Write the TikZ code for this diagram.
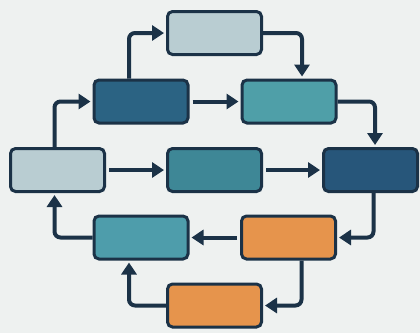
\documentclass[tikz,border=0pt]{standalone}
\usetikzlibrary{arrows.meta}
\definecolor{bgc}{HTML}{EEF1F0}
\definecolor{edgec}{HTML}{1B3247}
\definecolor{lightc}{HTML}{B9CDD2}
\definecolor{darkA}{HTML}{2B6383}
\definecolor{darkR}{HTML}{27567A}
\definecolor{tealB}{HTML}{4F9FA8}
\definecolor{tealM}{HTML}{3E8796}
\definecolor{tealP}{HTML}{4E9DAB}
\definecolor{orangec}{HTML}{E6944C}
\tikzset{
  box/.style={draw=edgec, line width=3pt, rounded corners=5pt, minimum width=94pt, minimum height=43pt, inner sep=0pt},
  arr/.style={draw=edgec, line width=4pt, rounded corners=6pt, -{Triangle[length=12pt,width=15pt]}, shorten >=2pt}
}
\begin{document}
\begin{tikzpicture}[x=1pt,y=-1pt]
\fill[bgc] (0,0) rectangle (420,333);
\useasboundingbox (0,0) rectangle (420,333);
\node[box, fill=lightc] (T) at (214.5,33) {};
\node[box, fill=darkA] (A) at (141,101.5) {};
\node[box, fill=tealB] (B) at (289,101.5) {};
\node[box, fill=lightc] (L) at (57.5,170) {};
\node[box, fill=tealM] (M) at (214.5,170) {};
\node[box, fill=darkR] (R) at (370.5,170) {};
\node[box, fill=tealP] (P) at (141,237.5) {};
\node[box, fill=orangec] (O1) at (288.5,237.5) {};
\node[box, fill=orangec] (O2) at (214.5,305.5) {};
\draw[arr] ([xshift=-12pt]A.north) |- (T.west);
\draw[arr] (T.east) -| ([xshift=13pt]B.north);
\draw[arr, shorten <=3pt] (A.east) -- (B.west);
\draw[arr] (B.east) -| ([xshift=4.5pt]R.north);
\draw[arr] ([xshift=-3pt]L.north) |- (A.west);
\draw[arr, shorten <=3pt] (L.east) -- (M.west);
\draw[arr, shorten <=3pt] (M.east) -- (R.west);
\draw[arr] ([xshift=3pt]R.south) |- (O1.east);
\draw[arr, shorten <=3pt] (O1.west) -- (P.east);
\draw[arr] (P.west) -| ([xshift=-3pt]L.south);
\draw[arr] ([xshift=13pt]O1.south) |- (O2.east);
\draw[arr] (O2.west) -| ([xshift=-12pt]P.south);
\end{tikzpicture}
\end{document}
